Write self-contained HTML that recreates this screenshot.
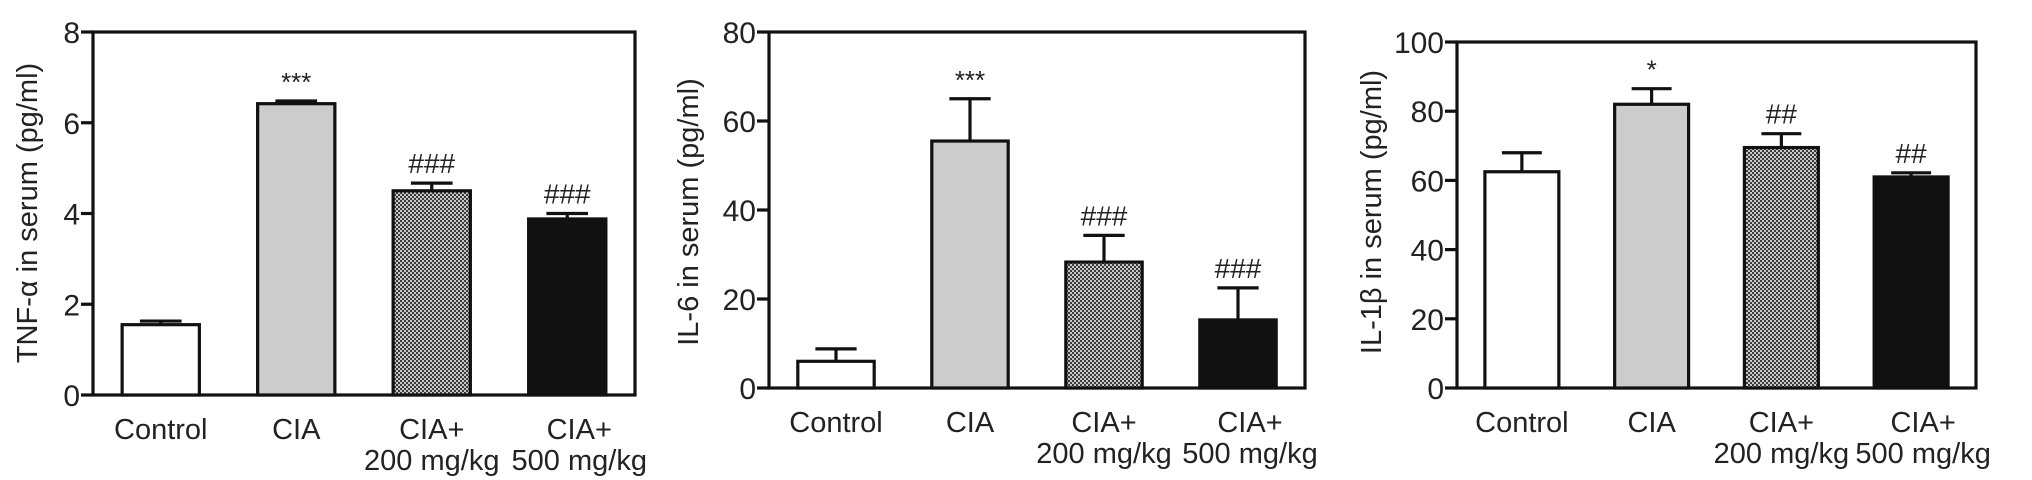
<!DOCTYPE html>
<html><head><meta charset="utf-8"><style>
html,body{margin:0;padding:0;background:#fff;}
svg{display:block;font-family:"Liberation Sans",Arial,sans-serif;}
</style></head><body>
<svg id="chart" width="2032" height="480" viewBox="0 0 2032 480">
<defs>
<pattern id="checker" width="4" height="4" patternUnits="userSpaceOnUse">
<rect width="4" height="4" fill="#c8c8c8"/>
<rect width="2" height="2" fill="#3a3a3a"/>
<rect x="2" y="2" width="2" height="2" fill="#3a3a3a"/>
</pattern>
</defs>
</svg>
<script>
const categories = ["Control","CIA","CIA+|200 mg/kg","CIA+|500 mg/kg"];
const tnfValues = [1.55, 6.42, 4.5, 3.88];
const tnfErrors = [0.08, 0.06, 0.17, 0.12];
const tnfMarks = ["", "***", "###", "###"];
const tnfTicks = [0, 2, 4, 6, 8];
const il6Values = [6.0, 55.5, 28.3, 15.3];
const il6Errors = [2.8, 9.5, 6.0, 7.2];
const il6Marks = ["", "***", "###", "###"];
const il6Ticks = [0, 20, 40, 60, 80];
const il1Values = [62.5, 82, 69.5, 61];
const il1Errors = [5.5, 4.5, 4.0, 1.2];
const il1Marks = ["", "*", "##", "##"];
const il1Ticks = [0, 20, 40, 60, 80, 100];
const fills = ["#ffffff", "#cccccc", "url(#checker)", "#111111"];

const svg = document.getElementById('chart');
const NS = 'http://www.w3.org/2000/svg';
function mk(tag, attrs, parent){
  const e = document.createElementNS(NS, tag);
  for (const k in attrs) e.setAttribute(k, attrs[k]);
  (parent||svg).appendChild(e);
  return e;
}
function panel(cfg, values, errors, marks, ticks){
  const g = mk('g', {});
  
  
  const maxV = ticks[ticks.length-1];
  const y = v => cfg.bottom - (v/maxV)*(cfg.bottom-cfg.top);
  const n = categories.length;
  const slot = (cfg.right-cfg.left)/n;
  const bw = slot*0.57;
  const xc = i => cfg.left + slot*(i+0.5) + cfg.shift;
  const fr = mk('rect', {x:cfg.left, y:cfg.top, width:cfg.right-cfg.left, height:cfg.bottom-cfg.top, fill:'none', stroke:'#111', 'stroke-width':3.2}, g);
  
  
  ticks.forEach(t => {
    const ln = mk('line', {x1:cfg.left-12, x2:cfg.left, y1:y(t), y2:y(t), stroke:'#111', 'stroke-width':3.2}, g);
    
    
    const tx = mk('text', {x:cfg.left-13, y:y(t)+11, 'text-anchor':'end', 'font-size':30, fill:'#222'}, g);
    tx.textContent = t;
    
    
  });
  const yt = mk('text', {x:cfg.labelX, y:cfg.labelY, 'text-anchor':'middle', 'font-size':29, fill:'#222', transform:`rotate(-90 ${cfg.labelX} ${cfg.labelY})`, 'dominant-baseline':'central'}, g);
  yt.textContent = cfg.title;
  
  
  values.forEach((v, i) => {
    const cx = xc(i);
    const top = y(v), et = y(v+errors[i]);
    const el = mk('line', {x1:cx, x2:cx, y1:top, y2:et, stroke:'#111', 'stroke-width':3.2}, g);
    
    
    const cap = mk('line', {x1:cx-bw*0.27, x2:cx+bw*0.27, y1:et, y2:et, stroke:'#111', 'stroke-width':3.2}, g);
    
    
    const r = mk('rect', {x:cx-bw/2, y:top, width:bw, height:cfg.bottom-top, fill:fills[i], stroke:'#111', 'stroke-width':3.2}, g);
    
    
    if (marks[i]) {
      const m = mk('text', {x:cx, y:et-10, 'text-anchor':'middle', 'font-size':marks[i][0]==='*'?26:28, fill:'#222'}, g);
      m.textContent = marks[i];
      
      
    }
    const parts = categories[i].split('|');
    parts.forEach((p, k) => {
      const lx = parts.length>1 ? cx + (i===3?12:0) : cx;
      const t = mk('text', {x:lx, y:cfg.bottom+44+k*31, 'text-anchor':'middle', 'font-size':29, fill:'#222'}, g);
      t.textContent = p;
      
      
    });
  });
}
panel({name:'tnf-panel', left:93, right:635, top:32, bottom:395, shift:0, labelX:28, labelY:213, title:'TNF-α in serum (pg/ml)'}, tnfValues, tnfErrors, tnfMarks, tnfTicks);
panel({name:'il6-panel', left:769, right:1305, top:32, bottom:388, shift:0, labelX:689, labelY:212, title:'IL-6 in serum (pg/ml)'}, il6Values, il6Errors, il6Marks, il6Ticks);
panel({name:'il1b-panel', left:1457, right:1976, top:42, bottom:388, shift:0, labelX:1372, labelY:212, title:'IL-1β in serum (pg/ml)'}, il1Values, il1Errors, il1Marks, il1Ticks);
</script>
</body></html>
